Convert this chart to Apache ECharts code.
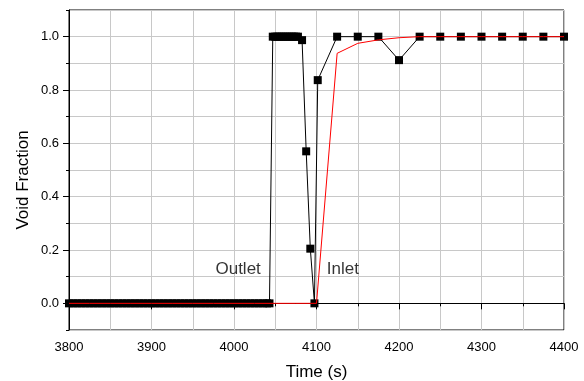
<!DOCTYPE html>
<html>
<head>
<meta charset="utf-8">
<script src="https://cdn.jsdelivr.net/npm/echarts@6/dist/echarts.min.js"></script>
<style>
  html, body { margin: 0; padding: 0; background: #fff; }
  #chart { width: 584px; height: 381px; }
</style>
</head>
<body>
<div id="chart"></div>
<script>
// ---- data ----
const blackTime = [
  3800, 3805, 3810, 3815, 3820, 3825, 3830, 3835, 3840, 3845,
  3850, 3855, 3860, 3865, 3870, 3875, 3880, 3885, 3890, 3895,
  3900, 3905, 3910, 3915, 3920, 3925, 3930, 3935, 3940, 3945,
  3950, 3955, 3960, 3965, 3970, 3975, 3980, 3985, 3990, 3995,
  4000, 4005, 4010, 4015, 4020, 4025, 4030, 4035, 4040, 4043,
  4047, 4050, 4052.5, 4055, 4057.5, 4060, 4062.5, 4065, 4067.5, 4070, 4072.5, 4075, 4077.5,
  4082.5, 4087.5, 4092.5, 4097.5, 4101.5,
  4125, 4150, 4175, 4200, 4225, 4250, 4275, 4300, 4325, 4350, 4375, 4400
];
const blackVoid = [
  0, 0, 0, 0, 0, 0, 0, 0, 0, 0,
  0, 0, 0, 0, 0, 0, 0, 0, 0, 0,
  0, 0, 0, 0, 0, 0, 0, 0, 0, 0,
  0, 0, 0, 0, 0, 0, 0, 0, 0, 0,
  0, 0, 0, 0, 0, 0, 0, 0, 0, 0,
  1, 1, 1, 1, 1, 1, 1, 1, 1, 1, 1, 1, 1,
  0.987, 0.57, 0.205, 0, 0.837,
  1, 1, 1, 0.912, 1, 1, 1, 1, 1, 1, 1, 1
];
const redTime = [
  3800, 3825, 3850, 3875, 3900, 3925, 3950, 3975, 4000, 4025, 4050, 4075, 4100,
  4125, 4150, 4175, 4200, 4225, 4250, 4275, 4300, 4325, 4350, 4375, 4400
];
const redVoid = [
  0, 0, 0, 0, 0, 0, 0, 0, 0, 0, 0, 0, 0,
  0.9375, 0.975, 0.988, 0.996, 1, 1, 1, 1, 1, 1, 1, 1
];
const yMajorTicks = [0, 0.2, 0.4, 0.6, 0.8, 1.0];
const annotations = [
  { text: 'Outlet', time: 4005, value: 0.129 },
  { text: 'Inlet', time: 4132, value: 0.129 }
];

const FONT = '"Liberation Sans", Arial, sans-serif';
const GRID_COLOR = '#c8c8c8';

const zip = (a, b) => a.map((t, i) => [t, b[i]]);

const chart = echarts.init(document.getElementById('chart'), null, { renderer: 'canvas' });
chart.setOption({
  animation: false,
  backgroundColor: '#fff',
  textStyle: { fontFamily: FONT },
  grid: {
    left: 69, right: 20, top: 10, bottom: 51,
    outerBoundsMode: 'none', containLabel: false,
    show: true, borderColor: '#000', borderWidth: 1, backgroundColor: 'transparent'
  },
  xAxis: {
    type: 'value', min: 3800, max: 4400, interval: 100,
    name: 'Time (s)', nameLocation: 'middle', nameGap: 34,
    nameTextStyle: { fontSize: 17, color: '#000', fontFamily: FONT },
    axisLine: { show: true, lineStyle: { color: '#000', width: 1 } },
    axisTick: { show: true, inside: false, length: 6, lineStyle: { color: '#000' } },
    minorTick: { show: true, splitNumber: 2, length: 3, lineStyle: { color: '#000' } },
    axisLabel: { color: '#000', fontSize: 13, margin: 11, fontFamily: FONT, formatter: v => String(v) },
    splitLine: { show: true, lineStyle: { color: GRID_COLOR, width: 1 } },
    minorSplitLine: { show: true, lineStyle: { color: GRID_COLOR, width: 1 } }
  },
  yAxis: [
    {
      type: 'value', min: -0.1, max: 1.1, interval: 0.1, position: 'left',
      name: 'Void Fraction', nameLocation: 'middle', nameGap: 37,
      nameTextStyle: { fontSize: 17, color: '#000', fontFamily: FONT, padding: [0, 20, 0, 0] },
      axisLine: { show: true, onZero: false, lineStyle: { color: '#000', width: 1 } },
      axisTick: { show: true, inside: false, length: 3, lineStyle: { color: '#000' } },
      axisLabel: { show: false },
      splitLine: { show: true, lineStyle: { color: GRID_COLOR, width: 1 } }
    },
    {
      type: 'value', min: -0.1, max: 1.1, interval: 0.1, position: 'left',
      axisLine: { show: false },
      axisTick: { show: true, inside: false, length: 6, customValues: yMajorTicks, lineStyle: { color: '#000' } },
      axisLabel: {
        show: true, customValues: yMajorTicks, color: '#000', fontSize: 13, margin: 10, fontFamily: FONT,
        formatter: v => v.toFixed(1)
      },
      splitLine: { show: false }
    }
  ],
  series: [
    {
      name: 'Outlet', type: 'line', yAxisIndex: 0,
      data: zip(blackTime, blackVoid),
      symbol: 'rect', symbolSize: 8, showSymbol: true,
      lineStyle: { color: '#000', width: 1 },
      itemStyle: { color: '#000' },
      z: 2
    },
    {
      name: 'Inlet', type: 'line', yAxisIndex: 0,
      data: zip(redTime, redVoid),
      showSymbol: false, symbol: 'none',
      lineStyle: { color: '#ff0000', width: 1 },
      z: 3
    },
    {
      name: 'labels', type: 'scatter', yAxisIndex: 0,
      data: annotations.map(a => ({ value: [a.time, a.value], name: a.text })),
      symbolSize: 0,
      label: {
        show: true, position: 'inside', formatter: p => p.name,
        fontSize: 17, color: '#000', fontFamily: FONT
      },
      silent: true,
      z: 4
    }
  ]
});
</script>
</body>
</html>
